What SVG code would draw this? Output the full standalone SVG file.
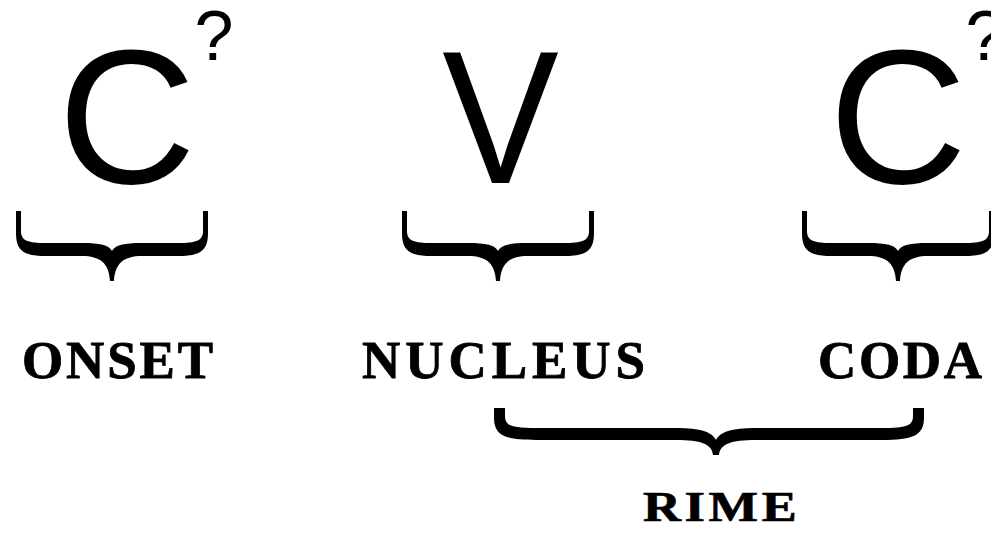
<svg xmlns="http://www.w3.org/2000/svg" width="991" height="534" viewBox="0 0 991 534">
<defs>
<style>
.big{font-family:"Liberation Sans",Arial,sans-serif;font-size:191px;fill:#000;text-anchor:middle}
.q{font-family:"Liberation Sans",Arial,sans-serif;font-size:70px;fill:#000;text-anchor:middle}
.lab{font-family:"Liberation Serif","Times New Roman",serif;font-weight:bold;font-size:53px;fill:#000;stroke:#000;stroke-width:0.8px}
.lab2{font-family:"Liberation Serif","Times New Roman",serif;font-weight:bold;font-size:43px;fill:#000;stroke:#000;stroke-width:0.7px}
.br{fill:#000;stroke:none}
</style>
<path id="smallBrace" class="br" d="M -96 0 L -96 22 C -96 40 -88 45 -66 45 L -30 45 C -12 45 -3 52 -2 70 L 2 70 C 3 52 12 45 30 45 L 66 45 C 88 45 96 40 96 22 L 96 0 L 91 0 L 91 20 C 91 30 84 32 66 32 L 30 32 C 12 32 3 34 0 40 C -3 34 -12 32 -30 32 L -66 32 C -84 32 -91 30 -91 20 L -91 0 Z"/>
</defs>
<rect width="991" height="534" fill="#fff"/>
<g id="onset-symbol">
<text class="big" x="127" y="183">C</text>
<text class="q" x="214" y="60">?</text>
</g>
<g id="nucleus-symbol">
<text class="big" transform="translate(500.5,183) scale(0.92,1)" x="0" y="0" style="font-size:190px">V</text>
</g>
<g id="coda-symbol">
<text class="big" x="898" y="183">C</text>
<text class="q" x="985" y="60">?</text>
</g>
<g id="connectors">
<use href="#smallBrace" transform="translate(112,211)"/>
<use href="#smallBrace" transform="translate(498,211)"/>
<use href="#smallBrace" transform="translate(898,211)"/>
<path class="br" transform="translate(716,408)" d="M -222 0 L -222 10 C -222 28 -210 32 -180 32 L -40 32 C -15 32 -4 36 -3 47 L 3 47 C 4 36 15 32 40 32 L 166 32 C 196 32 208 28 208 10 L 208 0 L 197 0 L 197 8 C 197 18 190 20 166 20 L 40 20 C 15 20 4 24 0 32 C -4 24 -15 20 -40 20 L -180 20 C -204 20 -211 18 -211 8 L -211 0 Z"/>
</g>
<g id="onset"><text class="lab" x="22" y="378" textLength="191" lengthAdjust="spacing">ONSET</text></g>
<g id="nucleus"><text class="lab" x="362" y="378" textLength="283" lengthAdjust="spacing">NUCLEUS</text></g>
<g id="coda"><text class="lab" x="818" y="378" textLength="164" lengthAdjust="spacing">CODA</text></g>
<g id="rime"><text class="lab2" transform="translate(643,521) scale(1.22,1)" x="0" y="0" textLength="126" lengthAdjust="spacing">RIME</text></g>
</svg>
